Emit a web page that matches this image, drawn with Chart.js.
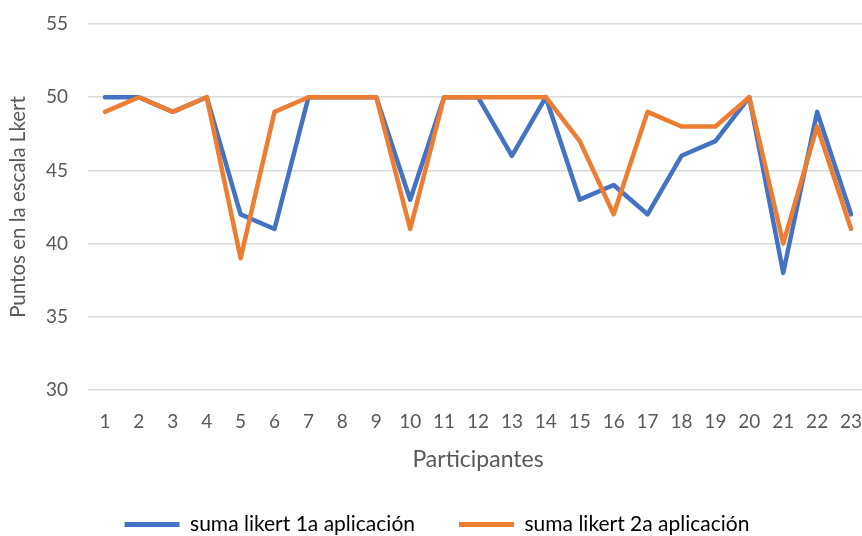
<!DOCTYPE html>
<html>
<head>
<meta charset="utf-8">
<script src="https://cdn.jsdelivr.net/npm/chart.js@4/dist/chart.umd.min.js"></script>
<style>
html,body{margin:0;padding:0;overflow:hidden;background:#fff;}
#wrap{width:868px;height:536px;position:relative;}
</style>
</head>
<body>
<div id="wrap"><canvas id="c"></canvas></div>
<script>
const participants = ['1','2','3','4','5','6','7','8','9','10','11','12','13','14','15','16','17','18','19','20','21','22','23'];
const suma1a = [50,50,49,50,42,41,50,50,50,43,50,50,46,50,43,44,42,46,47,50,38,49,42];
const suma2a = [49,50,49,50,39,49,50,50,50,41,50,50,50,50,47,42,49,48,48,50,40,48,41];
const seriesNames = ['suma likert 1a aplicación','suma likert 2a aplicación'];
const yTitle = 'Puntos en la escala Lkert';
const xTitle = 'Participantes';

const FONT = 'Lato, "Open Sans", sans-serif';
const BLUE = '#4472C4', ORANGE = '#ED7D31';
const TXT = '#595959';

new Chart(document.getElementById('c'), {
  type: 'line',
  data: {
    labels: participants,
    datasets: [
      {label: seriesNames[0], data: suma1a, order: 2, borderColor: BLUE, backgroundColor: BLUE, borderWidth: 4.5, pointRadius: 0, tension: 0, borderJoinStyle: 'round', borderCapStyle: 'round'},
      {label: seriesNames[1], data: suma2a, order: 1, borderColor: ORANGE, backgroundColor: ORANGE, borderWidth: 4.5, pointRadius: 0, tension: 0, borderJoinStyle: 'round', borderCapStyle: 'round'}
    ]
  },
  options: {
    responsive: true,
    maintainAspectRatio: false,
    animation: false,
    layout: {padding: {top: 24, left: 6, right: 0, bottom: -9}},
    plugins: {
      tooltip: {enabled: false},
      legend: {
        position: 'bottom',
        labels: {
          font: {family: FONT, size: 21},
          color: TXT,
          boxWidth: 55,
          boxHeight: 5,
          padding: 44,
          generateLabels: (chart) => chart.data.datasets.map((d, i) => ({
            text: d.label, fillStyle: d.borderColor, strokeStyle: d.borderColor, lineWidth: 0, datasetIndex: i, hidden: false
          }))
        }
      }
    },
    scales: {
      x: {
        offset: true,
        grid: {display: false, drawTicks: false},
        border: {display: false},
        ticks: {font: {family: FONT, size: 19}, color: TXT, padding: 20, maxRotation: 0, autoSkip: false},
        title: {display: true, text: xTitle, font: {family: FONT, size: 23}, color: TXT, padding: {top: 0, bottom: -3}},
        afterFit: (s) => { s.height = 80; s.paddingLeft = 0; s.paddingRight = 0; }
      },
      y: {
        min: 30, max: 55,
        ticks: {stepSize: 5, font: {family: FONT, size: 19}, color: TXT, padding: 20},
        grid: {color: '#d9d9d9', lineWidth: 1.5, drawTicks: false},
        border: {display: false},
        title: {display: true, text: yTitle, font: {family: FONT, size: 20.5}, color: TXT, padding: {top: 0, bottom: 0}},
        afterFit: (s) => { s.width = 82; s.paddingTop = 0; s.paddingBottom = 0; }
      }
    }
  }
});
</script>
</body>
</html>
